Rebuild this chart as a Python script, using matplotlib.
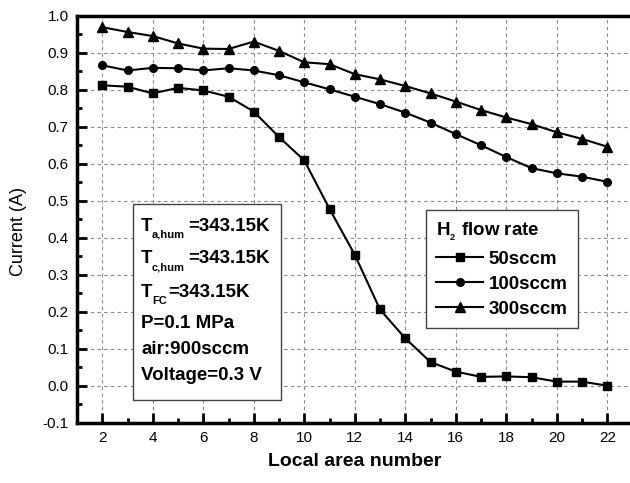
import matplotlib
matplotlib.use('Agg')
import matplotlib.pyplot as plt
from matplotlib.ticker import MultipleLocator, FormatStrFormatter
from matplotlib.patches import Rectangle

plt.rcParams['font.family'] = ['Liberation Sans', 'DejaVu Sans']
plt.rcParams['axes.unicode_minus'] = False
plt.rcParams['mathtext.fontset'] = 'custom'
plt.rcParams['mathtext.rm'] = 'Liberation Sans'
plt.rcParams['mathtext.bf'] = 'Liberation Sans:bold'

# ---- data ----
area = list(range(2, 23))
cur_50 = [0.812, 0.808, 0.790, 0.805, 0.798, 0.781, 0.741, 0.672, 0.609, 0.478,
          0.354, 0.206, 0.128, 0.064, 0.038, 0.024, 0.025, 0.023, 0.011, 0.011, 0.000]
cur_100 = [0.866, 0.852, 0.859, 0.858, 0.852, 0.858, 0.852, 0.839, 0.820, 0.801,
           0.781, 0.761, 0.738, 0.711, 0.680, 0.650, 0.618, 0.588, 0.574, 0.565, 0.551]
cur_300 = [0.969, 0.956, 0.945, 0.925, 0.911, 0.910, 0.930, 0.905, 0.874, 0.869,
           0.842, 0.828, 0.810, 0.790, 0.768, 0.745, 0.725, 0.707, 0.685, 0.667, 0.646]
series_labels = ['50sccm', '100sccm', '300sccm']
series_markers = ['s', 'o', '^']
series_msize = [5.5, 5.5, 6.5]

W, H = 630, 483
def P(x, y):
    return (x / W, 1 - y / H)

fig = plt.figure(figsize=(W / 100, H / 100), dpi=100)
ax = fig.add_axes([77 / W, 1 - 422.7 / H, 555.5 / W, 407 / H])

for vals, lab, mk, ms in zip([cur_50, cur_100, cur_300], series_labels, series_markers, series_msize):
    ax.plot(area, vals, color='black', lw=1.5, marker=mk, ms=ms, label=lab, zorder=3)

ax.set_xlim(1, 23)
ax.set_ylim(-0.1, 1.0)
ax.xaxis.set_major_locator(MultipleLocator(2))
ax.xaxis.set_minor_locator(MultipleLocator(1))
ax.yaxis.set_major_locator(MultipleLocator(0.1))
ax.yaxis.set_minor_locator(MultipleLocator(0.05))
ax.yaxis.set_major_formatter(FormatStrFormatter('%.1f'))

ax.grid(True, which='major', ls=(0, (3, 3)), color='#888888', lw=0.8, zorder=1)
ax.tick_params(which='both', direction='in', top=False, right=False, width=2, color='black')
ax.tick_params(which='major', length=7, labelsize=11, pad=6)
ax.tick_params(which='minor', length=3.5)

for s in ['left', 'bottom', 'top', 'right']:
    ax.spines[s].set_linewidth(2.5)

ax.set_xlabel('Local area number', fontsize=14, fontweight='bold')
ax.xaxis.set_label_coords(0.5, -0.075)
ax.set_ylabel('Current (A)', fontsize=13)
ax.yaxis.set_label_coords(-0.09, 0.47)

# legend
leg = ax.legend(title=r'H$_{{}_{\mathbf{2}}}$ flow rate', loc='upper left',
                bbox_to_anchor=P(426, 210), bbox_transform=fig.transFigure,
                prop=dict(weight='bold', size=13.5),
                title_fontproperties=dict(weight='bold', size=13.5),
                alignment='left', handlelength=2.5, handletextpad=0.3,
                labelspacing=0.42, borderpad=0.55, borderaxespad=0,
                frameon=True, fancybox=False, edgecolor='#444444', framealpha=1)
leg.get_frame().set_linewidth(1)
leg.set_zorder(6)

# condition box
rect = Rectangle(P(133, 400), 148 / W, 196 / H, transform=fig.transFigure,
                 facecolor='white', edgecolor='#444444', lw=1, zorder=4)
fig.add_artist(rect)

fs = 13.5
subfs = 8
def line(y, main, sub=None, subx=None, restx=None, rest=None):
    fig.text(*P(141, y), main, fontsize=fs, fontweight='bold', va='baseline', ha='left', zorder=5)
    if sub is not None:
        fig.text(*P(subx, y + 7), sub, fontsize=subfs, fontweight='bold', va='baseline', ha='left', zorder=5)
        fig.text(*P(restx, y), rest, fontsize=fs, fontweight='bold', va='baseline', ha='left', zorder=5)

line(231, 'T', 'a,hum', 152, 188, '=343.15K')
line(263.3, 'T', 'c,hum', 152, 188, '=343.15K')
line(296.7, 'T', 'FC', 152, 168.5, '=343.15K')
line(328.3, 'P=0.1 MPa')
line(354.3, 'air:900sccm')
line(380, 'Voltage=0.3 V')

fig.savefig('out.png', dpi=100)
